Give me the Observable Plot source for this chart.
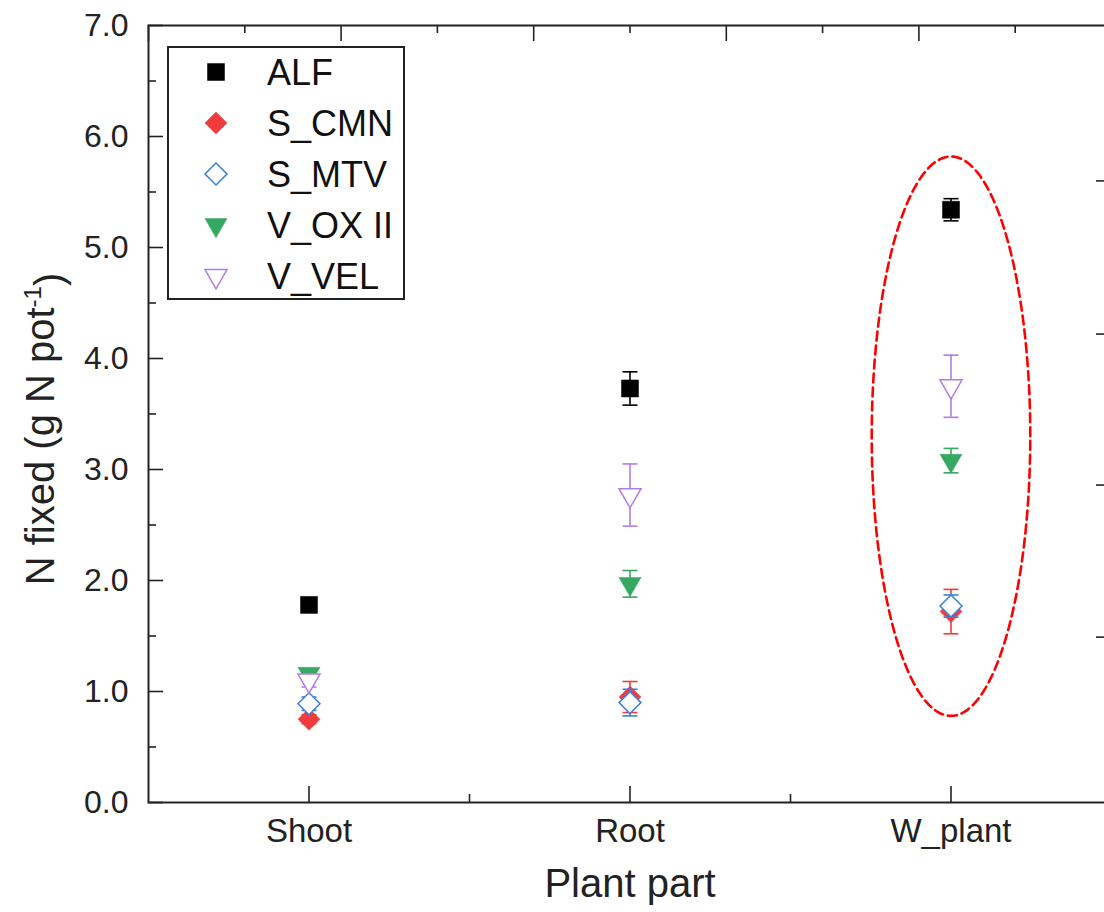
<!DOCTYPE html>
<html>
<head>
<meta charset="utf-8">
<script src="https://cdn.jsdelivr.net/npm/d3@7"></script>
<script src="https://cdn.jsdelivr.net/npm/@observablehq/plot@0.6"></script>
<style>
  html, body { margin: 0; padding: 0; background: #fff; }
  #chart { position: relative; width: 1104px; height: 912px; overflow: hidden; }
  svg { font-family: "Liberation Sans", Arial, sans-serif; }
</style>
</head>
<body>
<div id="chart"></div>
<script>
// ---- data ----
const parts = ["Shoot", "Root", "W_plant"];
const seriesNames = ["ALF", "S_CMN", "S_MTV", "V_OX II", "V_VEL"];
const seriesColors = ["#000000", "#f03c3c", "#3a7fe0", "#36a862", "#b07ee6"];
const seriesSymbols = ["square", "diamond2", "diamond2", "triangle", "triangle"];
const seriesFilled = [true, true, false, true, false];

const ALF = [1.78, 3.73, 5.34];
const ALF_err = [0.06, 0.15, 0.10];
const S_CMN = [0.75, 0.95, 1.72];
const S_CMN_err = [0.04, 0.14, 0.20];
const S_MTV = [0.89, 0.90, 1.77];
const S_MTV_err = [0.06, 0.12, 0.10];
const V_OX_II = [1.16, 1.97, 3.08];
const V_OX_II_err = [0.04, 0.12, 0.11];
const V_VEL = [1.10, 2.77, 3.75];
const V_VEL_err = [0.06, 0.28, 0.28];

const yMajorTicks = [0, 1, 2, 3, 4, 5, 6, 7];
const yMinorTicks = [0.5, 1.5, 2.5, 3.5, 4.5, 5.5, 6.5];
const xMajorTicks = [1, 2, 3];
const xMinorTicks = [1.5, 2.5];
const topMajorTicks = [0.5, 1.1, 1.7, 2.3, 2.9, 3.5];
const topMinorTicks = [0.8, 1.4, 2.0, 2.6, 3.2];
const rightTicks = [1.49, 2.86, 4.22, 5.60];

// highlighted group (ellipse around W_plant), in data units
const ellipse = {cx: 3, cy: 3.30, rx: 0.247, ry: 2.52};

// ---- build table ----
const values = [ALF, S_CMN, S_MTV, V_OX_II, V_VEL];
const errs = [ALF_err, S_CMN_err, S_MTV_err, V_OX_II_err, V_VEL_err];
const rows = [];
seriesNames.forEach((s, i) => parts.forEach((p, j) => {
  rows.push({series: s, i, part: p, x: j + 1, y: values[i][j], lo: values[i][j] - errs[i][j], hi: values[i][j] + errs[i][j]});
}));

const ellipsePts = d3.range(0, 361, 2).map(a => {
  const t = a * Math.PI / 180;
  return {x: ellipse.cx + ellipse.rx * Math.cos(t), y: ellipse.cy + ellipse.ry * Math.sin(t)};
});

// ---- layout ----
const W = 1104, H = 912;
const mL = 148, mR = -7, mT = 25, mB = 110;
const fw = W - mL - mR, fh = H - mT - mB;
const axisColor = "#222";

const capSymbol = {draw(ctx) { ctx.moveTo(-7.5, 0); ctx.lineTo(7.5, 0); }};
const rFor = {square: 9.6, diamond2: 9.9, triangle: 8.2};

const seriesMarks = [];
seriesNames.forEach((s, i) => {
  const d = rows.filter(r => r.i === i);
  const col = seriesColors[i];
  seriesMarks.push(
    Plot.ruleX(d, {x: "x", y1: "lo", y2: "hi", stroke: col, strokeWidth: 1.6}),
    Plot.dot(d, {x: "x", y: "lo", symbol: capSymbol, fill: "none", stroke: col, strokeWidth: 1.6}),
    Plot.dot(d, {x: "x", y: "hi", symbol: capSymbol, fill: "none", stroke: col, strokeWidth: 1.6}),
    Plot.dot(d, {
      x: "x", y: "y", symbol: seriesSymbols[i], r: rFor[seriesSymbols[i]],
      rotate: seriesSymbols[i] === "triangle" ? 180 : 0,
      fill: seriesFilled[i] ? col : "white",
      stroke: col, strokeWidth: seriesFilled[i] ? 0.5 : 1.5
    })
  );
});

const yTitle = "N fixed (g N pot-1)";

const plot = Plot.plot({
  width: W, height: H,
  marginLeft: mL, marginRight: mR, marginTop: mT, marginBottom: mB,
  x: {domain: [0.5, 3.5]},
  y: {domain: [0, 7]},
  style: {fontFamily: "Liberation Sans, Arial, sans-serif", color: "#111", background: "white"},
  marks: [
    Plot.line(ellipsePts, {x: "x", y: "y", stroke: "#ff0000", strokeWidth: 2.6, strokeDasharray: "9,5"}),
    ...seriesMarks,
    // frame and inward ticks
    Plot.frame({stroke: axisColor, strokeWidth: 2}),
    Plot.ruleY(yMajorTicks, {insetRight: fw - 15, stroke: axisColor, strokeWidth: 1.6}),
    Plot.ruleY(yMinorTicks, {insetRight: fw - 8, stroke: axisColor, strokeWidth: 1.6}),
    Plot.ruleX(xMajorTicks, {insetTop: fh - 16, stroke: axisColor, strokeWidth: 1.6}),
    Plot.ruleX(xMinorTicks, {insetTop: fh - 8, stroke: axisColor, strokeWidth: 1.6}),
    Plot.ruleX(topMajorTicks, {insetBottom: fh - 16, stroke: axisColor, strokeWidth: 1.6}),
    Plot.ruleX(topMinorTicks, {insetBottom: fh - 8, stroke: axisColor, strokeWidth: 1.6}),
    Plot.ruleY(rightTicks, {insetLeft: fw - 15, stroke: axisColor, strokeWidth: 1.6}),
    // tick labels
    Plot.axisY(yMajorTicks, {tickSize: 0, tickPadding: 20, tickFormat: d3.format(".1f"), fontSize: 32, label: null, fill: "#222"}),
    Plot.axisX(xMajorTicks, {tickSize: 0, tickPadding: 16, tickFormat: d => parts[d - 1], fontSize: 33, label: null, fill: "#222"}),
    // axis titles
    Plot.text(["Plant part"], {frameAnchor: "bottom", dy: 66, lineAnchor: "top", fontSize: 40, fill: "#222"}),
    Plot.text([yTitle], {frameAnchor: "left", textAnchor: "middle", dx: -107, dy: 15, rotate: -90, fontSize: 40, fill: "#222", className: "ytitle"})
  ]
});

document.getElementById("chart").appendChild(plot);

// superscript in y title
const svg = d3.select(plot);
svg.selectAll(".ytitle text").each(function() {
  const t = d3.select(this);
  t.text(null);
  t.append("tspan").text("N fixed (g N pot");
  t.append("tspan").attr("dy", "-0.55em").attr("font-size", "0.6em").text("-1");
  t.append("tspan").attr("dy", "0.55em").text(")");
});

// legend
const lg = svg.append("g").attr("transform", "translate(168,47)").attr("text-anchor", "start");
lg.append("rect").attr("width", 236).attr("height", 252).attr("fill", "white").attr("stroke", axisColor).attr("stroke-width", 2);
const d3sym = {square: d3.symbolSquare, diamond2: d3.symbolDiamond2, triangle: d3.symbolTriangle};
seriesNames.forEach((s, i) => {
  const cy = 25 + i * 51;
  const sym = seriesSymbols[i];
  const r = rFor[sym];
  lg.append("path")
    .attr("d", d3.symbol(d3sym[sym], Math.PI * r * r)())
    .attr("transform", `translate(48,${cy}) rotate(${sym === "triangle" ? 180 : 0})`)
    .attr("fill", seriesFilled[i] ? seriesColors[i] : "white")
    .attr("stroke", seriesColors[i]).attr("stroke-width", seriesFilled[i] ? 0.5 : 1.5);
  lg.append("text").attr("x", 99).attr("y", cy).attr("dy", "0.36em")
    .attr("text-anchor", "start")
    .attr("font-size", 36).attr("fill", "#111").text(s);
});
</script>
</body>
</html>
